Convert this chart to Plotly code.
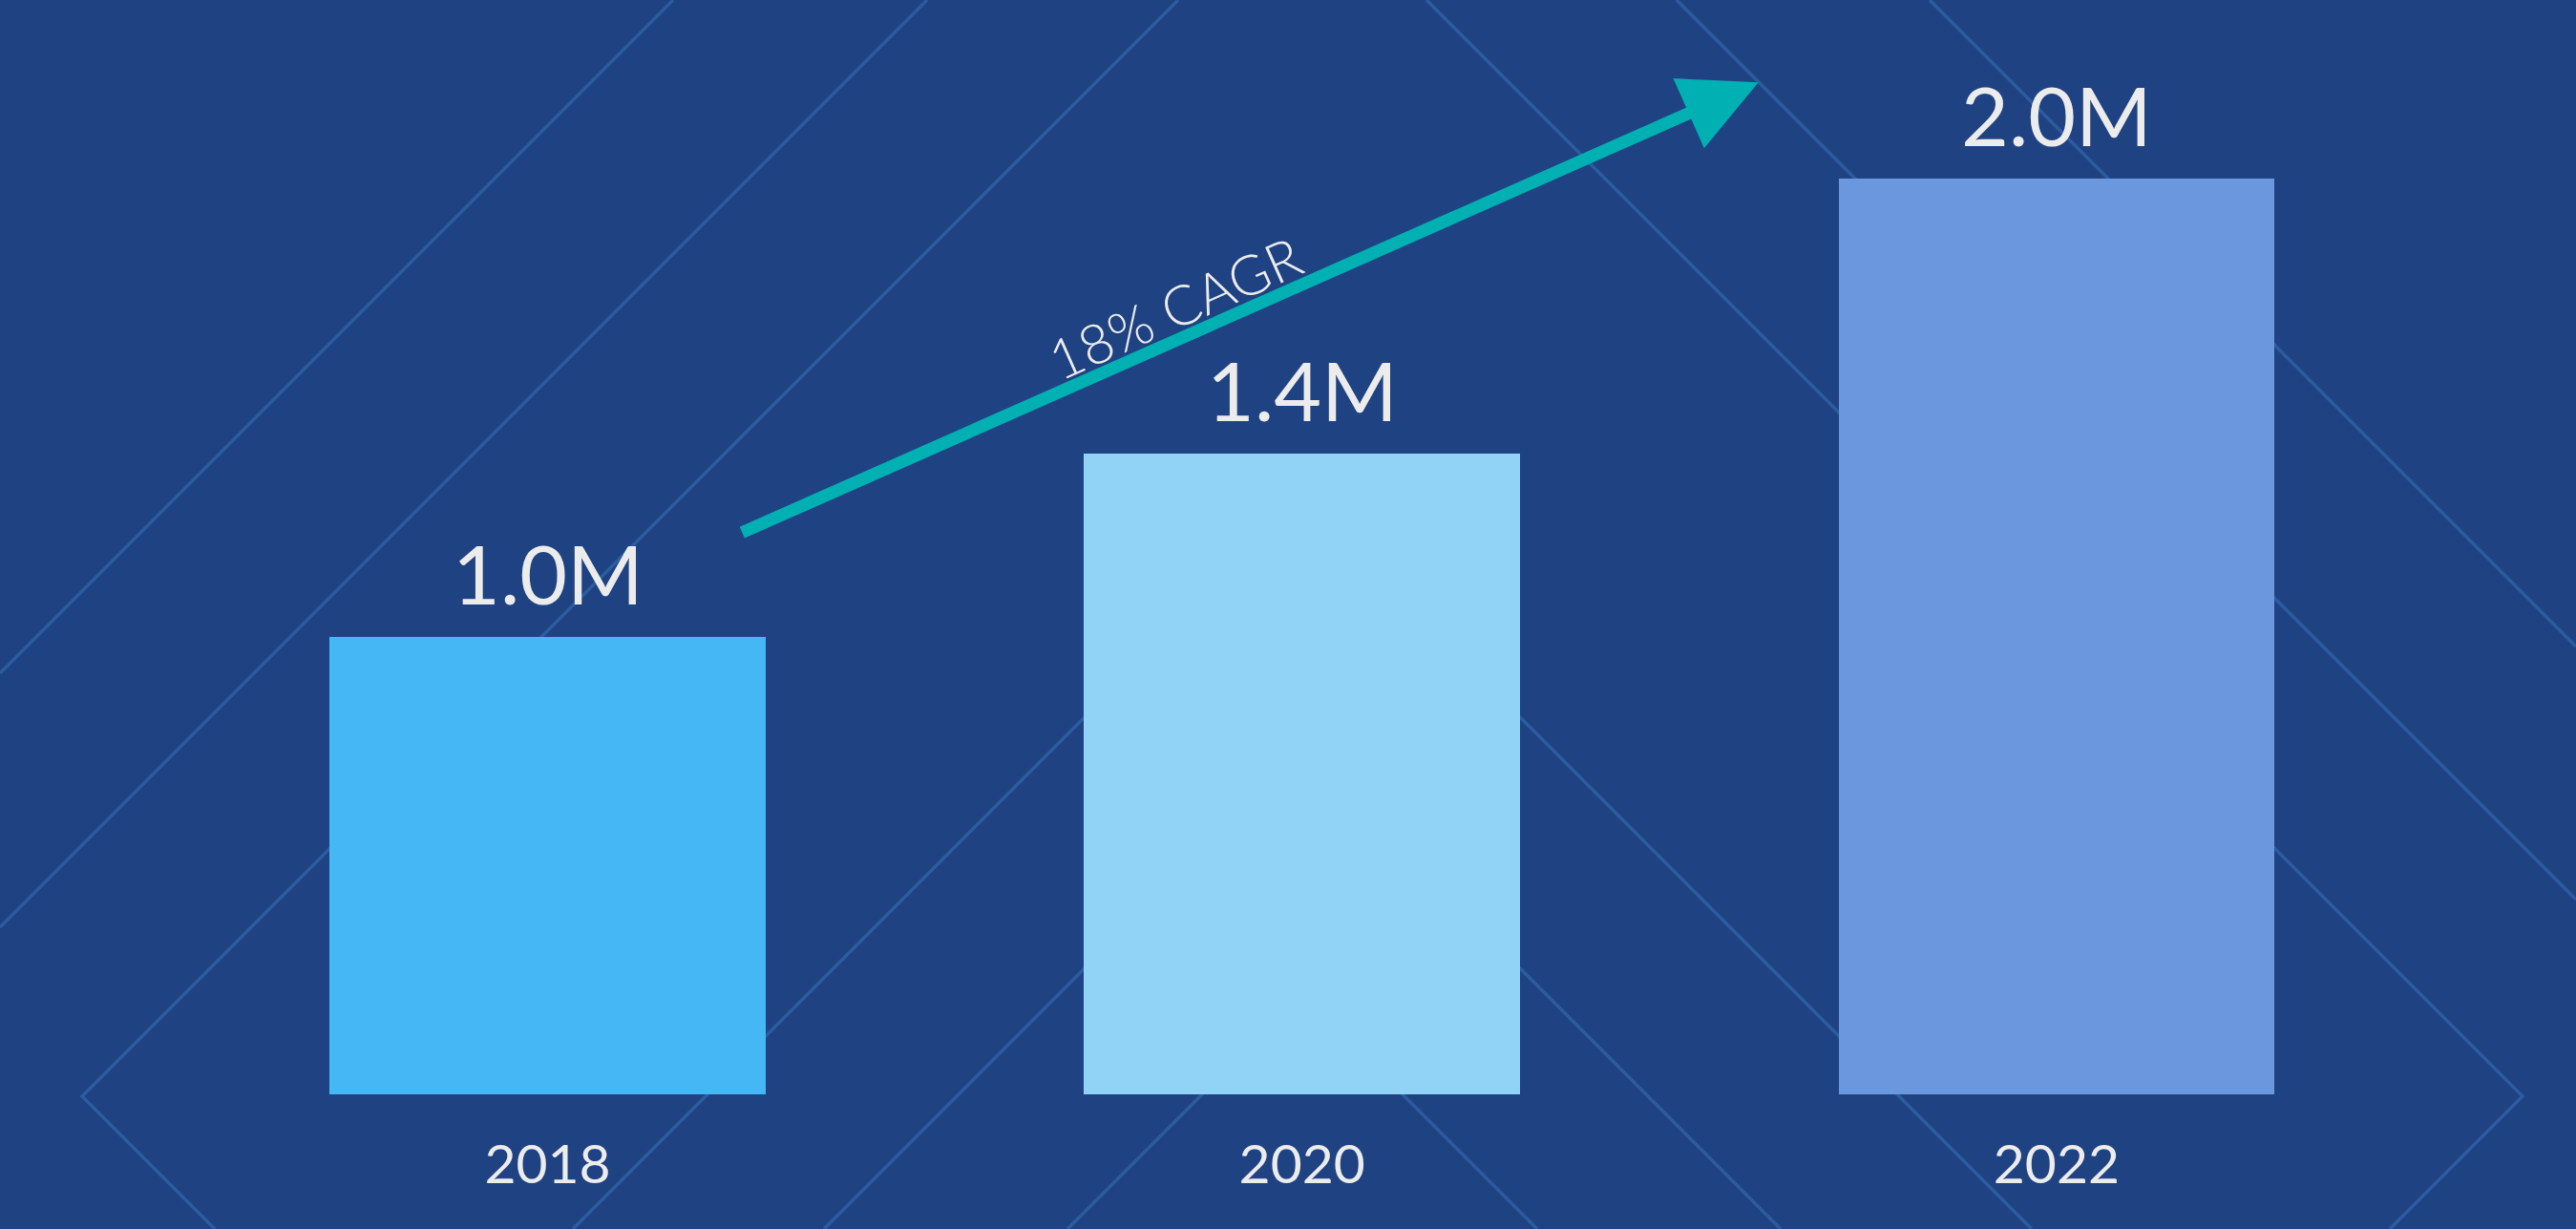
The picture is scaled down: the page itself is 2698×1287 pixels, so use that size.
import plotly.graph_objects as go

# ---- data ----
years = ["2018", "2020", "2022"]
users_m = [1.0, 1.4, 2.0]
value_labels = ["1.0M", "1.4M", "2.0M"]
bar_colors = ["#45b7f5", "#91d3f7", "#6b97df"]
cagr_label = "18% CAGR"

# ---- canvas ----
W, H = 2698, 1287
B = 141                      # bottom margin (space for year labels)
PH = H - B                   # plot-area height in px
BG = "#1f4282"
LINE = "#2c5c9f"
TXT = "#ececec"
TEAL = "#00b0b3"
FONT = "Lato, 'Open Sans', sans-serif"

def P(px, py):
    """pixel -> paper coordinates for the decorative background"""
    return px / W, 1 - py / PH

# decorative background diagonals (pixel polylines)
deco = [
    [(705, 0), (0, 705)],
    [(971, 0), (0, 971)],
    [(1234, 0), (86, 1148), (225, 1287)],
    [(1494, 0), (2642, 1148), (2503, 1287)],
    [(1756, 0), (2698, 942)],
    [(2021, 0), (2698, 677)],
    [(600, 1287), (1364, 523), (2128, 1287)],
    [(863, 1287), (1364, 786), (1865, 1287)],
    [(1118, 1287), (1364, 1041), (1610, 1287)],
]

shapes = []
for poly in deco:
    pts = [P(*p) for p in poly]
    path = "M " + " L ".join(f"{x:.5f},{y:.5f}" for x, y in pts)
    shapes.append(dict(type="path", xref="paper", yref="paper", path=path,
                       line=dict(color=LINE, width=3.5), layer="below"))

fig = go.Figure()
fig.add_trace(go.Bar(
    x=years, y=users_m, marker=dict(color=bar_colors, line=dict(width=0)),
    width=0.578, hoverinfo="skip", showlegend=False,
))

annotations = []
for i, (v, lab) in enumerate(zip(users_m, value_labels)):
    annotations.append(dict(x=i, y=v, xref="x", yref="y", text=lab, showarrow=False,
                            xanchor="center", yanchor="bottom", yshift=14,
                            font=dict(family=FONT, size=86, color=TXT)))

# growth arrow (tip at x=1.605, y=2.21 in axis units)
annotations.append(dict(x=1.605, y=2.21, xref="x", yref="y", text="", showarrow=True,
                        ax=-1066, ay=472, axref="pixel", ayref="pixel",
                        arrowhead=2, arrowwidth=13, arrowsize=1.23, arrowcolor=TEAL,
                        standoff=0, startstandoff=0))
annotations.append(dict(x=0.831, y=1.72, xref="x", yref="y", text=cagr_label, showarrow=False,
                        textangle=-24, xanchor="center", yanchor="middle",
                        font=dict(family=FONT, size=58, color=TXT, weight=300)))

fig.update_layout(
    width=W, height=H,
    margin=dict(l=0, r=0, t=0, b=B, pad=0),
    paper_bgcolor=BG, plot_bgcolor="rgba(0,0,0,0)",
    shapes=shapes, annotations=annotations,
    xaxis=dict(type="category", range=[-0.7258, 2.6886], showgrid=False, zeroline=False,
               showline=False, ticks="", ticklabelstandoff=35,
               tickfont=dict(family=FONT, size=57, color=TXT), fixedrange=True),
    yaxis=dict(range=[0, 2.390], visible=False, showgrid=False, zeroline=False, fixedrange=True),
    bargap=0.0,
)

fig.write_html("out.html", config={"displayModeBar": False},
               post_script="document.body.style.margin='0';document.body.style.overflow='hidden';")
